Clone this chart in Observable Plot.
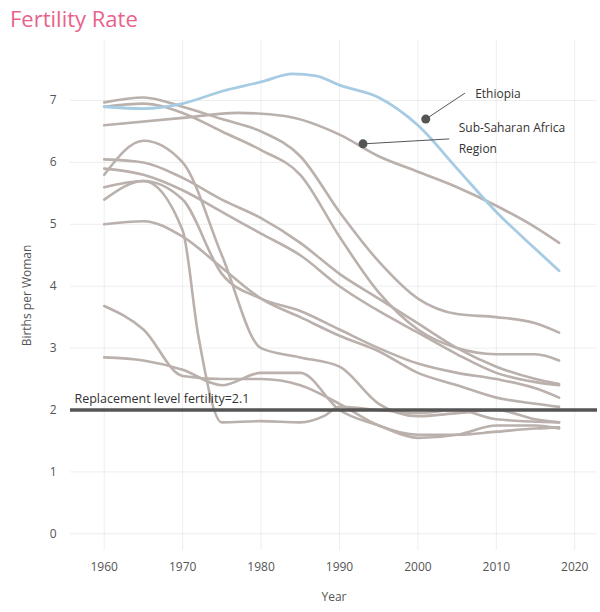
<!DOCTYPE html><html><head><meta charset="utf-8">
<script src="https://cdn.jsdelivr.net/npm/d3@7"></script>
<script src="https://cdn.jsdelivr.net/npm/@observablehq/plot@0.6"></script>
<style>body{margin:0;background:#fff;font-family:"Open Sans",sans-serif}#t{height:36px;font-size:22px;color:#e8638b;padding-left:10px;line-height:36px}</style>
</head><body><div id="t">Fertility Rate</div><div id="c"></div>
<script>
const years=[1960,1965,1970,1975,1980,1985,1990,1995,2000,2005,2010,2015,2018];
const ethiopiaYears=[1960,1965,1970,1975,1980,1984,1987,1990,1995,2000,2005,2010,2015,2018];
const ethiopia=[6.9,6.87,6.95,7.15,7.3,7.43,7.4,7.25,7.05,6.6,5.9,5.2,4.6,4.25];
const ssaYears=[1960,1970,1977,1983,1990,1995,2000,2005,2010,2015,2018];
const ssa=[6.6,6.72,6.8,6.75,6.45,6.1,5.85,5.6,5.3,4.95,4.7];
const others=[
[6.97,7.05,6.9,6.7,6.5,6.1,5.2,4.4,3.8,3.55,3.5,3.4,3.25],
[6.9,6.95,6.8,6.5,6.2,5.8,4.8,3.9,3.3,3.0,2.9,2.9,2.8],
[5.8,6.35,6.0,4.5,3.0,2.85,2.7,2.1,1.9,1.95,2.0,1.85,1.8],
[5.9,5.8,5.55,5.2,4.85,4.5,4.0,3.6,3.25,2.9,2.6,2.45,2.4],
[6.05,6.0,5.75,5.4,5.1,4.7,4.2,3.8,3.4,3.0,2.7,2.5,2.42],
[5.4,5.7,5.4,4.2,3.8,3.6,3.3,3.0,2.75,2.6,2.5,2.35,2.2],
[5.0,5.05,4.8,4.3,3.8,3.5,3.2,2.95,2.6,2.4,2.2,2.1,2.05],
[3.68,3.3,2.55,2.5,2.5,2.4,2.1,1.75,1.6,1.6,1.65,1.7,1.72],
[2.85,2.8,2.65,2.4,2.6,2.6,2.0,1.75,1.55,1.6,1.75,1.75,1.7]
];
const jYears=[1960,1965,1970,1972,1975,1980,1985,1988,1990,1995,2000,2005,2010,2018];
const jVals=[5.6,5.7,4.9,3.2,1.8,1.82,1.8,1.9,2.05,2.0,1.95,2.0,1.85,1.8];
const rows=[];
others.forEach((s,i)=>s.forEach((v,k)=>rows.push({id:"o"+i,year:years[k],v})));
jVals.forEach((v,k)=>rows.push({id:"j",year:jYears[k],v}));
ssa.forEach((v,k)=>rows.push({id:"ssa",year:ssaYears[k],v}));
const eth=ethiopia.map((v,k)=>({year:ethiopiaYears[k],v}));
const gray="#bab0ac";
const chart=Plot.plot({width:600,height:576,marginLeft:70,marginRight:3,marginTop:4,marginBottom:62,
style:{fontFamily:"Open Sans",fontSize:"12px",color:"#555"},
x:{domain:[1955.7,2022.9],ticks:[1960,1970,1980,1990,2000,2010,2020],tickFormat:d=>String(d),tickSize:0,tickPadding:12,grid:true,label:"Year",labelArrow:"none",labelAnchor:"center",labelOffset:50},
y:{domain:[-0.27,7.97],ticks:[0,1,2,3,4,5,6,7],tickSize:0,tickPadding:14,grid:true,label:"Births per Woman",labelArrow:"none",labelAnchor:"center",labelOffset:48},
marks:[
Plot.line(rows,{x:"year",y:"v",z:"id",stroke:gray,strokeWidth:2.6,curve:"monotone-x"}),
Plot.line(eth,{x:"year",y:"v",stroke:"#a6cbe3",strokeWidth:2.8,curve:"monotone-x"}),
Plot.ruleY([2.0],{stroke:"#555",strokeWidth:3.5}),
Plot.text([{x:1956.2,y:2.0}],{x:"x",y:"y",text:()=>"Replacement level fertility=2.1",textAnchor:"start",dy:-11,fontSize:12.5,fill:"#333"}),
Plot.link([{x1:2001,y1:6.7,x2:2006,y2:7.12}],{x1:"x1",y1:"y1",x2:"x2",y2:"y2",stroke:"#555"}),
Plot.link([{x1:1993,y1:6.3,x2:2004,y2:6.38}],{x1:"x1",y1:"y1",x2:"x2",y2:"y2",stroke:"#555"}),
Plot.dot([{x:2001,y:6.7},{x:1993,y:6.3}],{x:"x",y:"y",r:4.5,fill:"#555"}),
Plot.text([{x:2007.3,y:7.1,t:"Ethiopia"},{x:2005.2,y:6.56,t:"Sub-Saharan Africa"},{x:2005.2,y:6.22,t:"Region"}],{x:"x",y:"y",text:"t",textAnchor:"start",fontSize:12,fill:"#333"})
]});
document.getElementById("c").append(chart);
</script></body></html>
